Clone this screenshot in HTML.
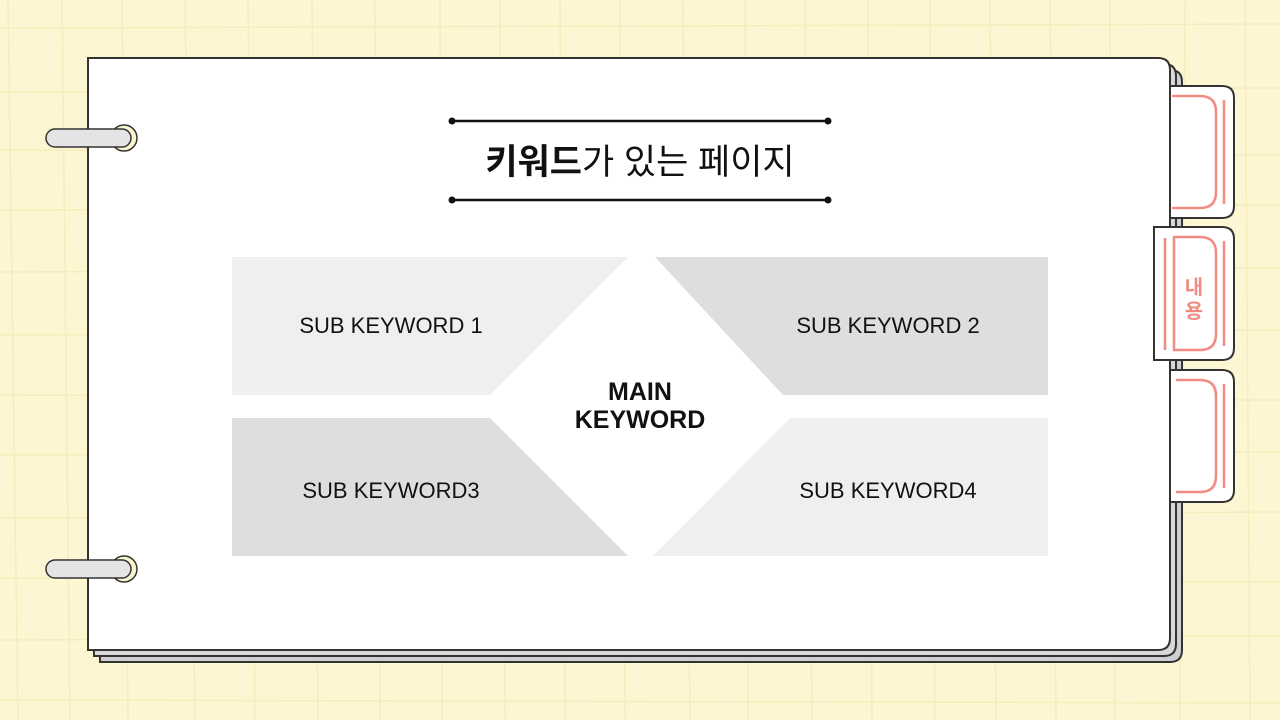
<!DOCTYPE html>
<html><head><meta charset="utf-8"><style>
html,body{margin:0;padding:0;width:1280px;height:720px;overflow:hidden;background:#fdf6d3;}
svg{display:block}
text{font-family:"Liberation Sans","Noto Sans CJK KR",sans-serif;}
</style></head><body>
<svg width="1280" height="720" viewBox="0 0 1280 720" xmlns="http://www.w3.org/2000/svg">
<rect width="1280" height="720" fill="#fdf6d3"/>
<g stroke="#f6edbd" stroke-width="1.5" fill="none">
<path d="M8 0 L18 720 M62 0 L70 720 M122 0 L128 720 M185 0 L195 720 M248 0 L255 720 M312 0 L318 720 M375 0 L380 720 M440 0 L442 720 M500 0 L505 720 M560 0 L565 720 M620 0 L625 720 M683 0 L690 720 M745 0 L748 720 M805 0 L812 720 M868 0 L872 720 M930 0 L935 720 M990 0 L996 720 M1050 0 L1056 720 M1110 0 L1115 720 M1185 0 L1180 720 M1245 0 L1250 720"/>
<path d="M0 28 L1280 24 M0 92 L1280 88 M0 150 L1280 155 M0 210 L1280 205 M0 272 L1280 268 M0 335 L1280 330 M0 395 L1280 400 M0 455 L1280 452 M0 518 L1280 512 M0 578 L1280 582 M0 640 L1280 636 M0 700 L1280 703"/>
</g>
<path d="M100 70 H1170 Q1182 70 1182 82 V650 Q1182 662 1170 662 H100 Z" fill="#cfcfd2" stroke="#333" stroke-width="2"/>
<path d="M94 64 H1164 Q1176 64 1176 76 V644 Q1176 656 1164 656 H94 Z" fill="#d8d8db" stroke="#333" stroke-width="2"/>
<path d="M1170 86 H1222 Q1234 86 1234 98 V206 Q1234 218 1222 218 H1170 Z" fill="#fff" stroke="#333" stroke-width="2"/>
<path d="M1172 96 H1200 Q1216 96 1216 112 V192 Q1216 208 1200 208 H1172" fill="none" stroke="#f28b82" stroke-width="2.5"/>
<line x1="1224" y1="100" x2="1224" y2="204" stroke="#f28b82" stroke-width="2.5"/>
<path d="M1170 370 H1222 Q1234 370 1234 382 V490 Q1234 502 1222 502 H1170 Z" fill="#fff" stroke="#333" stroke-width="2"/>
<path d="M1176 380 H1200 Q1216 380 1216 396 V476 Q1216 492 1200 492 H1176" fill="none" stroke="#f28b82" stroke-width="2.5"/>
<line x1="1224" y1="384" x2="1224" y2="488" stroke="#f28b82" stroke-width="2.5"/>
<path d="M88 58 H1158 Q1170 58 1170 70 V638 Q1170 650 1158 650 H88 Z" fill="#fff" stroke="#333" stroke-width="2"/>
<path d="M1154 227 H1222 Q1234 227 1234 239 V348 Q1234 360 1222 360 H1154 Z" fill="#fff" stroke="#333" stroke-width="2"/>
<line x1="1165" y1="238" x2="1165" y2="350" stroke="#f28b82" stroke-width="2.5"/>
<path d="M1174 237 H1200 Q1216 237 1216 253 V334 Q1216 350 1200 350 H1174 Z" fill="none" stroke="#f28b82" stroke-width="2.5"/>
<line x1="1224" y1="241" x2="1224" y2="346" stroke="#f28b82" stroke-width="2.5"/>
<text x="1194" y="294" font-size="20" font-weight="bold" fill="#f28b82" text-anchor="middle">내</text>
<text x="1194" y="318" font-size="20" font-weight="bold" fill="#f28b82" text-anchor="middle">용</text>
<g stroke="#333" stroke-width="1.5">
<circle cx="124" cy="138" r="13" fill="#fbf6d0"/>
<rect x="46" y="129" width="85" height="18" rx="9" fill="#e4e4e6"/>
<circle cx="124" cy="569" r="13" fill="#fbf6d0"/>
<rect x="46" y="560" width="85" height="18" rx="9" fill="#e4e4e6"/>
</g>
<g stroke="#111" stroke-width="2.5">
<line x1="452" y1="121" x2="828" y2="121"/><line x1="452" y1="200" x2="828" y2="200"/>
</g>
<g fill="#111"><circle cx="452" cy="121" r="3.5"/><circle cx="828" cy="121" r="3.5"/><circle cx="452" cy="200" r="3.5"/><circle cx="828" cy="200" r="3.5"/></g>
<text x="640" y="174" font-size="35" text-anchor="middle" fill="#111"><tspan font-weight="bold">키워드</tspan>가 있는 페이지</text>
<polygon points="232,257 628,257 490,395 232,395" fill="#efeef0"/>
<polygon points="655,257 1048,257 1048,395 783,395" fill="#dedde0"/>
<polygon points="232,418 490,418 628,556 232,556" fill="#dedde0"/>
<polygon points="790,418 1048,418 1048,556 653,556" fill="#efeef0"/>
<g font-size="22" fill="#111" text-anchor="middle">
<text x="391" y="333">SUB KEYWORD 1</text>
<text x="888" y="333">SUB KEYWORD 2</text>
<text x="391" y="498">SUB KEYWORD3</text>
<text x="888" y="498">SUB KEYWORD4</text>
</g>
<text x="640" y="400" font-size="25" font-weight="bold" text-anchor="middle" fill="#111">MAIN</text>
<text x="640" y="428" font-size="25" font-weight="bold" text-anchor="middle" fill="#111">KEYWORD</text>
</svg>
</body></html>
